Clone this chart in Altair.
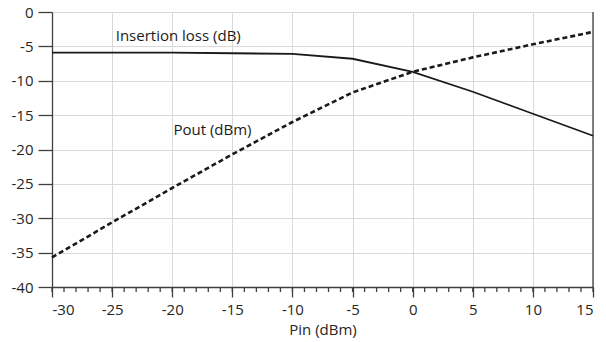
import altair as alt
import pandas as pd

pin = [-30, -25, -20, -15, -10, -5, 0, 5, 10, 15]
insertion_loss = [-5.9, -5.9, -5.9, -6.0, -6.1, -6.8, -8.7, -11.6, -14.8, -18.0]
pout = [-35.7, -30.6, -25.6, -20.7, -16.0, -11.7, -8.7, -6.6, -4.7, -2.9]

labels = ["Insertion loss (dB)", "Pout (dBm)"]
label_x = [-24.7, -19.9]
label_y = [-3.5, -17.2]

major_ticks = [-30, -25, -20, -15, -10, -5, 0, 5, 10, 15]
y_ticks = [0, -5, -10, -15, -20, -25, -30, -35, -40]
minor_ticks = list(range(-30, 16))

FONT = "Open Sans"
FS = 15
W, H = 541, 275

xs = alt.Scale(domain=[-30, 15], nice=False)
ys = alt.Scale(domain=[-40, 0], nice=False)

x_axis = alt.Axis(values=major_ticks, labelExpr="datum.value + ''", grid=True,
                  gridColor="#d9d9d9", gridWidth=1, domainColor="#404040", domainWidth=1.3,
                  tickColor="#404040", tickSize=10, tickWidth=1.3, labelFontSize=FS,
                  labelFont=FONT, labelColor="#262626", labelPadding=5, titleFont=FONT,
                  titleFontSize=FS, titleFontWeight="normal", titleColor="#262626",
                  titlePadding=5, labelOverlap=False)
y_axis = alt.Axis(values=y_ticks, labelExpr="datum.value + ''", grid=True,
                  gridColor="#d9d9d9", gridWidth=1, domainColor="#404040", domainWidth=1.3,
                  tickColor="#404040", tickSize=14, tickWidth=1.3, labelFontSize=FS,
                  labelFont=FONT, labelColor="#262626", labelPadding=5, labelOverlap=False)

df = pd.DataFrame({"pin": pin, "il": insertion_loss, "pout": pout})
base = alt.Chart(df)

il_line = base.mark_line(color="#1a1a1a", strokeWidth=1.8).encode(
    x=alt.X("pin:Q", scale=xs, title="Pin (dBm)", axis=x_axis),
    y=alt.Y("il:Q", scale=ys, title=None, axis=y_axis))

pout_line = base.mark_line(color="#1a1a1a", strokeWidth=2.6, strokeDash=[5, 3]).encode(
    x=alt.X("pin:Q", scale=xs, title="Pin (dBm)", axis=x_axis),
    y=alt.Y("pout:Q", scale=ys, title=None, axis=y_axis))

minor = alt.Chart(pd.DataFrame({"t": minor_ticks, "b": [-40] * len(minor_ticks)})).mark_rule(
    color="#404040", strokeWidth=1.3).encode(
    x=alt.X("t:Q", scale=xs, title="Pin (dBm)", axis=x_axis),
    y=alt.Y("b:Q", scale=ys, title=None, axis=y_axis), y2=alt.value(H + 5))

border = alt.Chart(pd.DataFrame({"t": [15]})).mark_rule(color="#404040", strokeWidth=1.3).encode(
    x=alt.X("t:Q", scale=xs, title="Pin (dBm)", axis=x_axis), y=alt.value(0), y2=alt.value(H))

text = alt.Chart(pd.DataFrame({"label": labels, "x": label_x, "y": label_y})).mark_text(
    align="left", baseline="middle", font=FONT, fontSize=FS, color="#1a1a1a").encode(
    x=alt.X("x:Q", scale=xs, title="Pin (dBm)", axis=x_axis),
    y=alt.Y("y:Q", scale=ys, title=None, axis=y_axis), text="label:N")

chart = alt.layer(minor, border, il_line, pout_line, text).properties(
    width=W, height=H,
    padding={"left": 52, "top": 12, "right": 13, "bottom": 55},
    autosize=alt.AutoSizeParams(type="none"),
    background="white",
).configure_view(stroke=None)

chart.save("out.html", embed_options={"renderer": "svg", "actions": False})
